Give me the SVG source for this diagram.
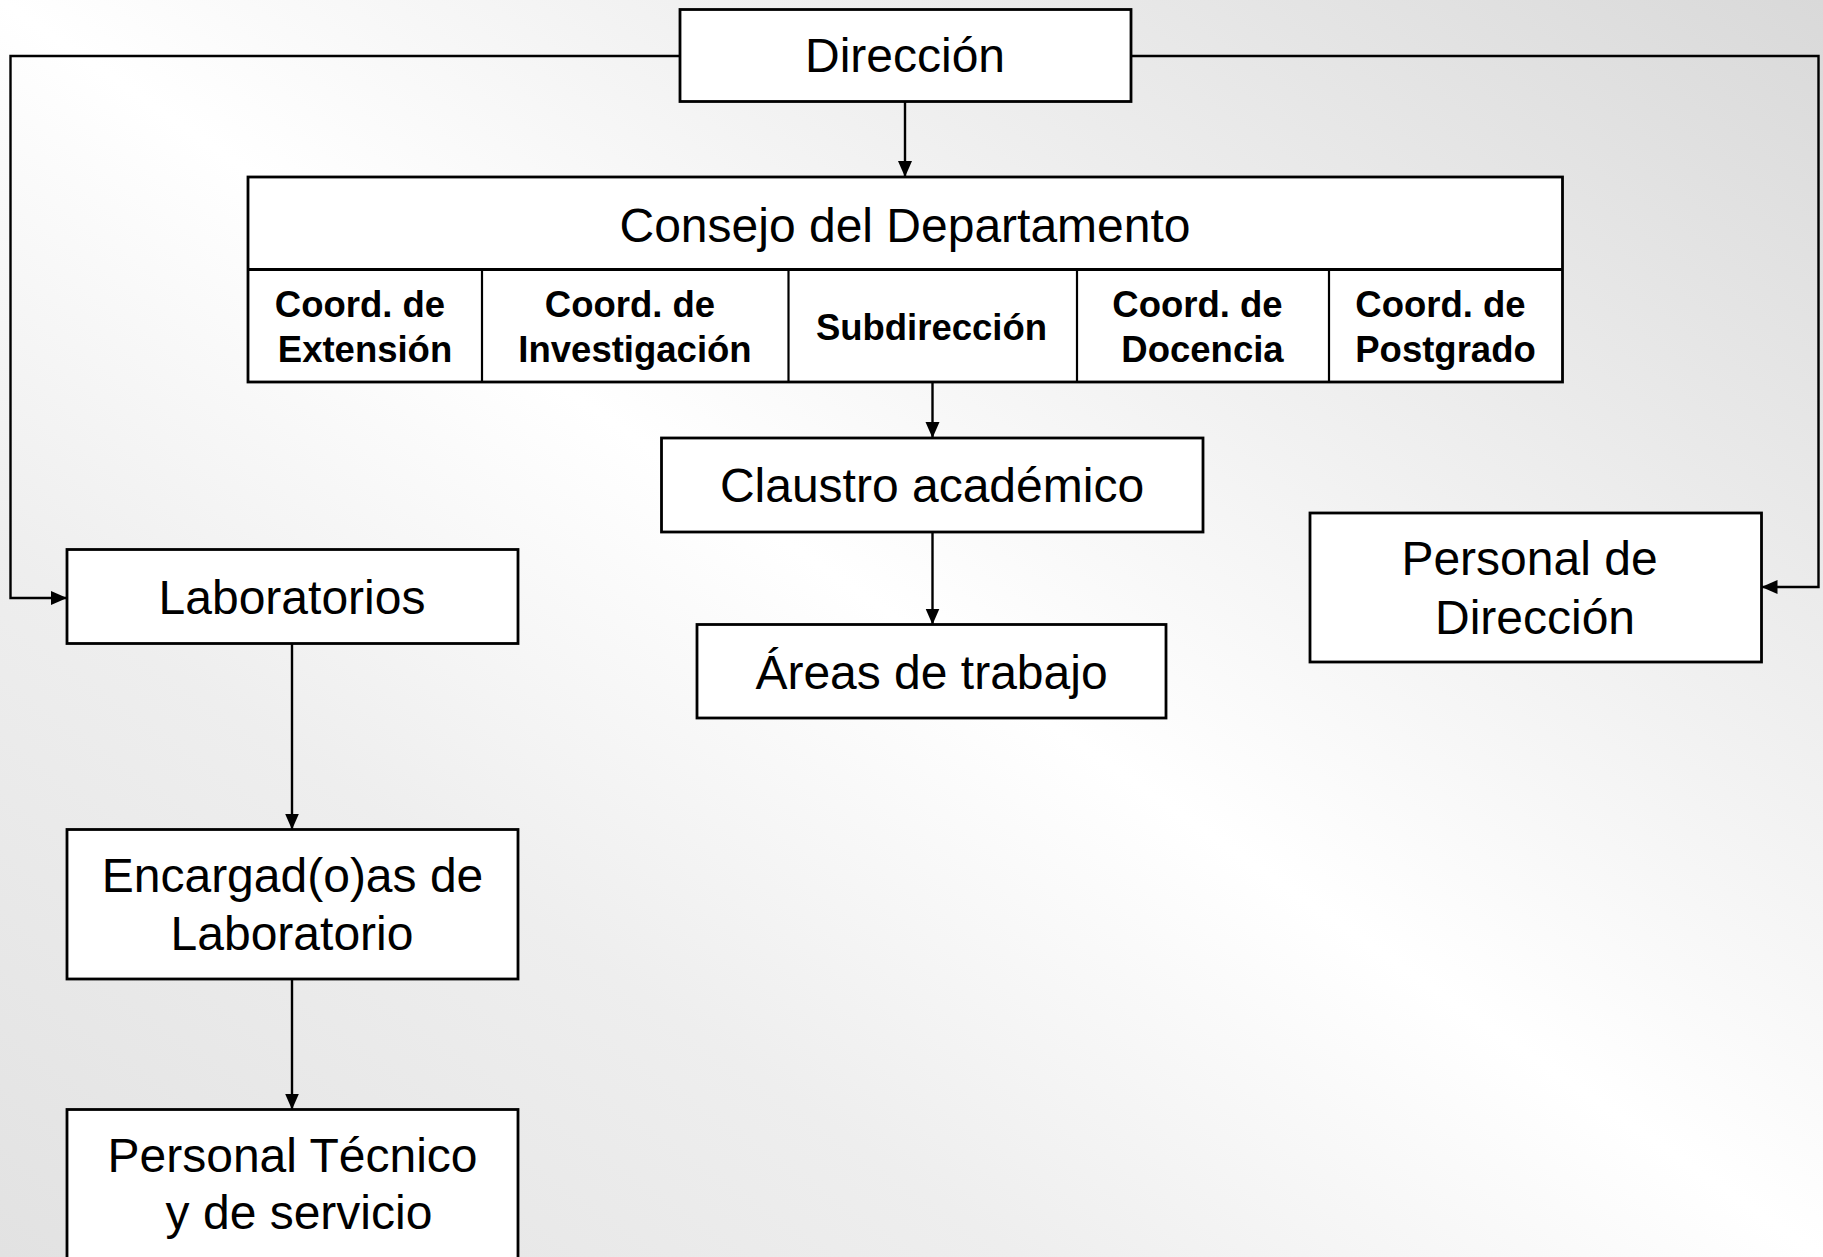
<svg xmlns="http://www.w3.org/2000/svg" width="1823" height="1257" viewBox="0 0 1823 1257">
  <defs>
    <linearGradient id="bg" x1="1" y1="0" x2="0" y2="1">
      <stop offset="0" stop-color="#d9d9d9"/>
      <stop offset="0.5" stop-color="#ffffff"/>
      <stop offset="0.72" stop-color="#eeeeee"/>
      <stop offset="1" stop-color="#e2e2e2"/>
    </linearGradient>
    <marker id="arr" markerUnits="userSpaceOnUse" markerWidth="17" markerHeight="15" refX="16" refY="7" orient="auto">
      <path d="M0,0 L16,7 L0,14 Z" fill="#000"/>
    </marker>
    <style>
      .box { fill: #ffffff; stroke: #000; stroke-width: 2.8; }
      .div { fill: none; stroke: #000; stroke-width: 2.2; }
      .t { font-family: "Liberation Sans", Arial, sans-serif; font-size: 48px; fill: #000; text-anchor: middle; }
      .b { font-family: "Liberation Sans", Arial, sans-serif; font-size: 36.5px; font-weight: bold; fill: #000; text-anchor: middle; }
      .c { fill: none; stroke: #000; stroke-width: 2.4; marker-end: url(#arr); }
    </style>
  </defs>
  <rect x="0" y="0" width="1823" height="1257" fill="url(#bg)"/>

  <g id="connectors">
    <path class="c" d="M680,56 H10.5 V598 H67"/>
    <path class="c" d="M1131,56 H1818.5 V587 H1761.5"/>
    <path class="c" d="M905,102 V177"/>
    <path class="c" d="M932.5,382 V438"/>
    <path class="c" d="M932.5,532 V624.5"/>
    <path class="c" d="M292,643.5 V829.5"/>
    <path class="c" d="M292,979 V1109.5"/>
  </g>

  <g id="direccion">
    <rect class="box" x="680" y="9.5" width="451" height="92"/>
    <text class="t" x="905" y="72">Dirección</text>
  </g>

  <g id="consejo">
    <rect class="box" x="248" y="177" width="1314.5" height="205"/>
    <line class="box" x1="248" y1="269.5" x2="1562.5" y2="269.5"/>
    <text class="t" x="905" y="242">Consejo del Departamento</text>
  </g>

  <g id="coord-extension">
    <line class="div" x1="482" y1="269.5" x2="482" y2="382"/>
    <text class="b" x="360" y="317">Coord. de</text>
    <text class="b" x="365" y="361.5">Extensión</text>
  </g>
  <g id="coord-investigacion">
    <line class="div" x1="788.5" y1="269.5" x2="788.5" y2="382"/>
    <text class="b" x="630" y="317">Coord. de</text>
    <text class="b" x="635" y="361.5">Investigación</text>
  </g>
  <g id="subdireccion">
    <line class="div" x1="1077" y1="269.5" x2="1077" y2="382"/>
    <text class="b" x="931.5" y="340">Subdirección</text>
  </g>
  <g id="coord-docencia">
    <line class="div" x1="1329" y1="269.5" x2="1329" y2="382"/>
    <text class="b" x="1197.5" y="317">Coord. de</text>
    <text class="b" x="1202.5" y="361.5">Docencia</text>
  </g>
  <g id="coord-postgrado">
    <text class="b" x="1440.5" y="317">Coord. de</text>
    <text class="b" x="1445.5" y="361.5">Postgrado</text>
  </g>

  <g id="claustro">
    <rect class="box" x="661.5" y="438" width="541.5" height="94"/>
    <text class="t" x="932" y="502">Claustro académico</text>
  </g>

  <g id="areas">
    <rect class="box" x="697" y="624.5" width="469" height="93.5"/>
    <text class="t" x="931.5" y="688.5">Áreas de trabajo</text>
  </g>

  <g id="personal-direccion">
    <rect class="box" x="1310" y="513" width="451.5" height="149"/>
    <text class="t" x="1529.5" y="575">Personal de</text>
    <text class="t" x="1535" y="633.5">Dirección</text>
  </g>

  <g id="laboratorios">
    <rect class="box" x="67" y="549.5" width="451" height="94"/>
    <text class="t" x="292" y="613.5">Laboratorios</text>
  </g>

  <g id="encargados">
    <rect class="box" x="67" y="829.5" width="451" height="149.5"/>
    <text class="t" x="292.5" y="892">Encargad(o)as de</text>
    <text class="t" x="292" y="950">Laboratorio</text>
  </g>

  <g id="personal-tecnico">
    <rect class="box" x="67" y="1109.5" width="451" height="170"/>
    <text class="t" x="292.5" y="1172">Personal Técnico</text>
    <text class="t" x="299" y="1228.5">y de servicio</text>
  </g>
</svg>
